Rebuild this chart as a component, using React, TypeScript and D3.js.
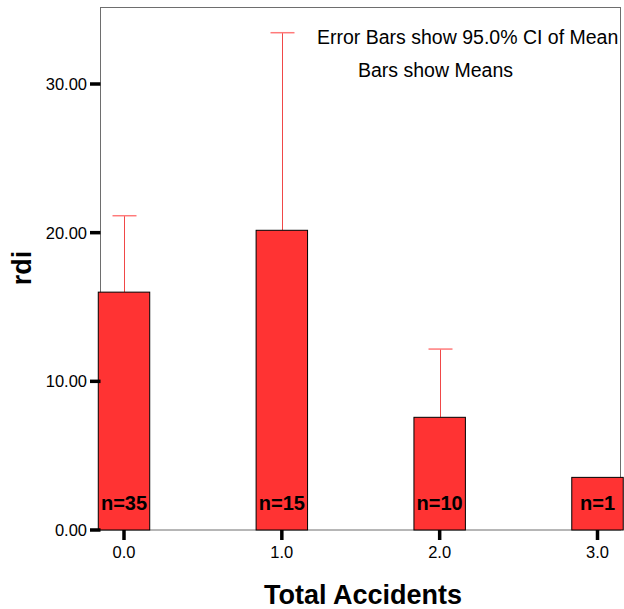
import React, { useEffect, useRef } from 'react';
import * as d3 from 'd3';

const categories = [0, 1, 2, 3];
const means = [16.0, 20.16, 7.58, 3.54];
const ciUpper = [21.14, 33.45, 12.17, null];
const counts = [35, 15, 10, 1];
const yTicks = [0, 10, 20, 30];

const App = () => {
  const svgRef = useRef<SVGSVGElement>(null);

  useEffect(() => {
    const width = 624;
    const height = 609;
    const left = 100.5;
    const right = 620.5;
    const top = 7.5;
    const bottom = 530;

    const svg = d3.select(svgRef.current)
      .attr('width', width)
      .attr('height', height);
    svg.selectAll('*').remove();

    const xScale = d3.scaleLinear()
      .domain([0, 3])
      .range([124, 597.5]);

    const yScale = d3.scaleLinear()
      .domain([0, 30])
      .range([bottom, 84]);

    const barW = xScale(0.326) - xScale(0);
    const font = 'Liberation Sans, Arial, sans-serif';

    // frame
    svg.append('rect')
      .attr('x', left)
      .attr('y', top)
      .attr('width', right - left)
      .attr('height', bottom - top)
      .attr('fill', 'none')
      .attr('stroke', '#6e6e6e')
      .attr('stroke-width', 1);

    // error bars (upper half, drawn behind bars)
    const errs = svg.append('g');
    categories.forEach((c, i) => {
      const up = ciUpper[i];
      if (up == null) return;
      const cx = Math.round(xScale(c)) + 0.5;
      errs.append('line')
        .attr('x1', cx).attr('x2', cx)
        .attr('y1', yScale(means[i])).attr('y2', yScale(up))
        .attr('stroke', '#f04848').attr('stroke-width', 1);
      errs.append('line')
        .attr('x1', cx - 12).attr('x2', cx + 12)
        .attr('y1', yScale(up)).attr('y2', yScale(up))
        .attr('stroke', '#ff7a7a').attr('stroke-width', 1.5);
    });

    // bars
    svg.append('g')
      .selectAll('rect')
      .data(categories)
      .enter()
      .append('rect')
      .attr('x', (d) => xScale(d) - barW / 2)
      .attr('y', (d, i) => yScale(means[i]))
      .attr('width', barW)
      .attr('height', (d, i) => bottom - yScale(means[i]))
      .attr('fill', '#ff3333')
      .attr('stroke', '#000')
      .attr('stroke-width', 1);

    // n labels
    svg.append('g')
      .selectAll('text')
      .data(categories)
      .enter()
      .append('text')
      .attr('x', (d) => xScale(d))
      .attr('y', 510)
      .attr('text-anchor', 'middle')
      .attr('font-family', font)
      .attr('font-weight', 'bold')
      .attr('font-size', 20)
      .text((d, i) => `n=${counts[i]}`);

    // y axis ticks
    const yAxis = svg.append('g');
    yTicks.forEach((t) => {
      yAxis.append('line')
        .attr('x1', 90).attr('x2', left)
        .attr('y1', yScale(t)).attr('y2', yScale(t))
        .attr('stroke', '#000').attr('stroke-width', 3.5);
      yAxis.append('text')
        .attr('x', 87)
        .attr('y', yScale(t) + 6)
        .attr('text-anchor', 'end')
        .attr('font-family', font)
        .attr('font-size', 16.5)
        .text(d3.format('.2f')(t));
    });

    // x axis ticks
    const xAxis = svg.append('g');
    categories.forEach((c) => {
      xAxis.append('line')
        .attr('x1', xScale(c)).attr('x2', xScale(c))
        .attr('y1', bottom).attr('y2', 540)
        .attr('stroke', '#000').attr('stroke-width', 3.5);
      xAxis.append('text')
        .attr('x', xScale(c))
        .attr('y', 558)
        .attr('text-anchor', 'middle')
        .attr('font-family', font)
        .attr('font-size', 16.5)
        .text(d3.format('.1f')(c));
    });

    // axis titles
    svg.append('text')
      .attr('transform', 'translate(31,268) rotate(-90)')
      .attr('text-anchor', 'middle')
      .attr('font-family', font)
      .attr('font-weight', 'bold')
      .attr('font-size', 27)
      .text('rdi');

    svg.append('text')
      .attr('x', 363)
      .attr('y', 604)
      .attr('text-anchor', 'middle')
      .attr('font-family', font)
      .attr('font-weight', 'bold')
      .attr('font-size', 27)
      .text('Total Accidents');

    // annotations
    svg.append('text')
      .attr('x', 317)
      .attr('y', 44)
      .attr('font-family', font)
      .attr('font-size', 19.5)
      .text('Error Bars show 95.0% CI of Mean');

    svg.append('text')
      .attr('x', 358)
      .attr('y', 77)
      .attr('font-family', font)
      .attr('font-size', 19.5)
      .text('Bars show Means');
  }, []);

  return <svg ref={svgRef} style={{ position: 'absolute', left: 0, top: 0 }}></svg>;
};

export default App;
